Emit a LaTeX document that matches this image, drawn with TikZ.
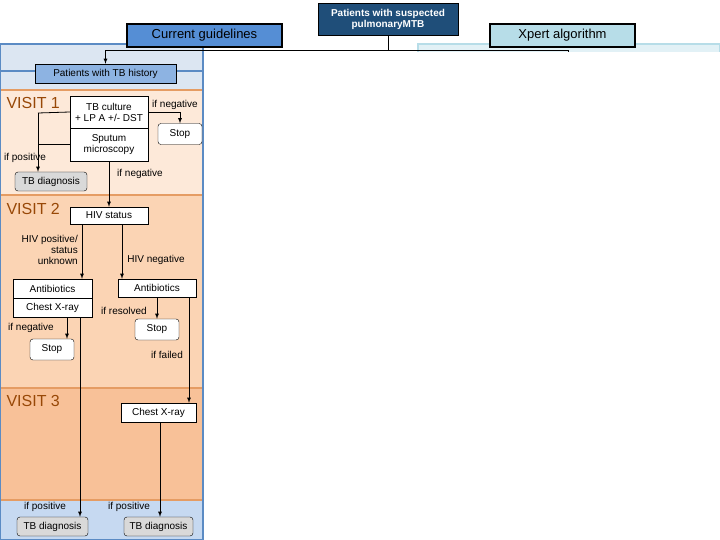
\documentclass[tikz,border=0pt]{standalone}
\usepackage{fontspec}
\setmainfont{Liberation Sans}
\usetikzlibrary{positioning}
\definecolor{navy}{HTML}{1F4E79}
\definecolor{midblue}{HTML}{558ED5}
\definecolor{paneblue}{HTML}{DCE6F2}
\definecolor{edgeblue}{HTML}{5B8BC4}
\definecolor{histblue}{HTML}{8DB3E2}
\definecolor{cyanbox}{HTML}{B7DDE8}
\definecolor{v1}{HTML}{FDE9D9}
\definecolor{v2}{HTML}{FBD4B4}
\definecolor{v3}{HTML}{F8C198}
\definecolor{endblue}{HTML}{C6D9F1}
\definecolor{sep}{HTML}{E59C63}
\definecolor{brown}{HTML}{984807}
\tikzset{
  box/.style={draw,fill=white,inner sep=1pt,font=\fontsize{10}{11}\selectfont,align=center},
  stopbox/.style={box,rounded corners=3pt,minimum width=44pt,minimum height=21pt},
  diag/.style={box,fill=black!15,rounded corners=3pt,minimum width=71pt,minimum height=19pt},
  lbl/.style={font=\fontsize{10}{11}\selectfont,inner sep=0pt},
  visit/.style={text=brown,font=\fontsize{16}{16}\selectfont,anchor=west},
  arr/.style={-latex,thick},
  ln/.style={thick}
}
\begin{document}
\begin{tikzpicture}[x=1pt,y=-1pt]
\useasboundingbox (0,0) rectangle (720,540);
% panels
\fill[fill=cyanbox!40,draw=cyanbox,line width=2pt] (418,44) rectangle (720,540);
\fill[fill=paneblue,draw=edgeblue,line width=2pt] (0,44) rectangle (203,540);
\fill[white] (205,52) rectangle (720,540);
\fill[v1] (1,90) rectangle (202,195);
\fill[v2] (1,195) rectangle (202,388);
\fill[v3] (1,388) rectangle (202,500);
\fill[endblue] (1,500) rectangle (202,539);
\draw[edgeblue,line width=2pt] (0,71) rectangle (203,540);
\foreach \y in {90,195,388,500} \draw[sep,line width=2.5pt] (1,\y) -- (202,\y);
\node[visit] at (3,103) {VISIT 1};
\node[visit] at (3,209) {VISIT 2};
\node[visit] at (3,401) {VISIT 3};

% top
\node[draw,fill=navy,text=white,font=\bfseries\fontsize{10}{11}\selectfont,align=center,minimum width=140pt,minimum height=32pt,inner sep=1pt] (top) at (388,19) {Patients with suspected\\pulmonaryMTB};
\node[draw,line width=1.2pt,fill=midblue,font=\fontsize{13}{14}\selectfont,minimum width=155pt,minimum height=23pt] (cur) at (204.5,35.5) {Current guidelines};
\node[draw,line width=1.2pt,fill=cyanbox,font=\fontsize{13}{14}\selectfont,minimum width=145pt,minimum height=23pt] (xpert) at (562.5,35.5) {Xpert algorithm};
\node[draw,fill=histblue,font=\fontsize{10}{11}\selectfont,minimum width=141pt,minimum height=19pt] (hist) at (105.5,73.5) {Patients with TB history};
\coordinate (split) at (top.south |- 0,50);
\draw[ln] (top.south) -- (split);
\draw[ln] (split) -- (568,50) -- (568,52);
\draw[arr] (split) -- (hist.north |- 0,50) -- (hist.north);

% visit 1
\node[box,minimum width=78pt,minimum height=32pt] (cult) at (109,112) {TB culture\\+ LP A +/- DST};
\node[box,minimum width=78pt,minimum height=33pt,below=0pt of cult] (smear) {Sputum\\microscopy};
\node[stopbox] (stop1) at (180,134) {Stop};
\node[diag,minimum width=72pt] (diag1) at (51,181.5) {TB diagnosis};
\coordinate (pos1) at (38,113);
\draw[ln] (cult.west) -- (pos1);
\draw[ln] (smear.west) -- (pos1 |- smear.west);
\draw[arr] (pos1) -- (diag1.north -| pos1);
\node[lbl] at (25,158) {if positive};
\draw[arr] (cult.east) -| (stop1.north);
\node[lbl] at (175,105) {if negative};

% visit 2
\node[box,minimum width=78pt,minimum height=17pt] (hiv) at (109,215.5) {HIV status};
\draw[arr] (smear.south) -- (hiv.north);
\node[lbl] at (140,174) {if negative};
\node[box,minimum width=79pt,minimum height=19pt] (abl) at (52.5,288.5) {Antibiotics};
\node[box,minimum width=79pt,minimum height=19pt,below=0pt of abl] (cxl) {Chest X-ray};
\node[box,minimum width=78pt,minimum height=18pt] (abr) at (157,288) {Antibiotics};
\draw[arr] (hiv.south -| 82,0) -- (abl.north -| 82,0);
\draw[arr] (hiv.south -| 122,0) -- (abr.north -| 122,0);
\node[lbl,align=right,anchor=east] at (78,250) {HIV positive/\\status\\unknown};
\node[lbl] at (156,260) {HIV negative};
\node[stopbox] (stop2) at (52,349.5) {Stop};
\draw[arr] (cxl.south -| 67,0) -- (stop2.north -| 67,0);
\node[lbl] at (31,328) {if negative};
\node[stopbox] (stop3) at (157,329.5) {Stop};
\draw[arr] (abr.south -| stop3.north) -- (stop3.north);
\node[lbl] at (124,311) {if resolved};
\node[lbl] at (167,355) {if failed};

% visit 3
\node[box,minimum width=75pt,minimum height=19pt] (cxr) at (158.5,412.5) {Chest X-ray};
\draw[arr] (abr.south -| 189,0) -- (cxr.north -| 189,0);

% outcome
\node[diag] (diag2) at (52.5,526.5) {TB diagnosis};
\node[diag,minimum width=69pt] (diag3) at (158.5,526.5) {TB diagnosis};
\draw[arr] (cxl.south -| 80,0) -- (diag2.north -| 80,0);
\draw[arr] (cxr.south -| 160,0) -- (diag3.north -| 160,0);
\node[lbl] at (45,507) {if positive};
\node[lbl] at (129,507) {if positive};
\end{tikzpicture}
\end{document}
